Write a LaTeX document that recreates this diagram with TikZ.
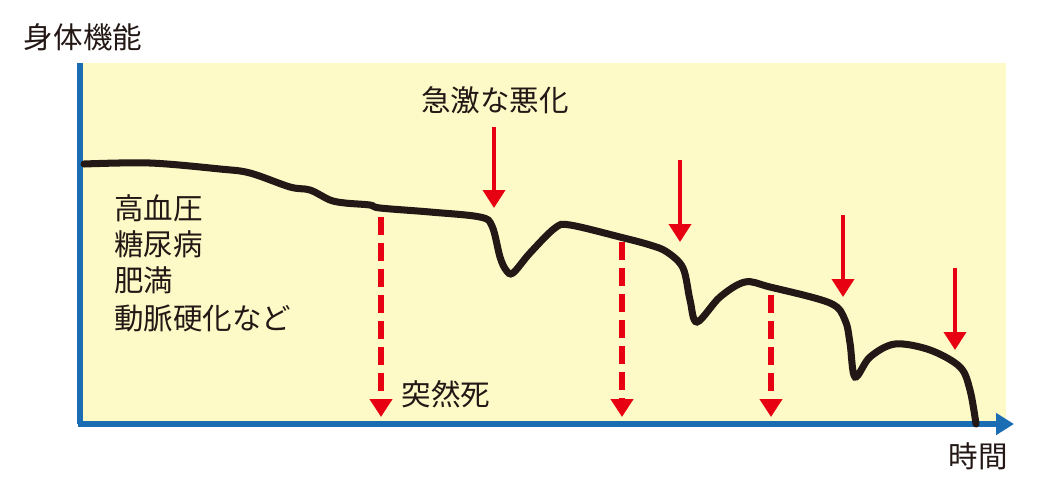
\documentclass[tikz,border=0pt]{standalone}
\usepackage{fontspec}
\setmainfont{Noto Sans CJK JP}
\usepackage{tikz}
\usetikzlibrary{arrows.meta}
\definecolor{chartbg}{HTML}{FEFAC8}
\definecolor{axisblue}{HTML}{1A6DB3}
\definecolor{alertred}{HTML}{E60012}
\definecolor{inkgray}{HTML}{231815}

\begin{document}
\begin{tikzpicture}[x=0.025cm,y=-0.025cm,
  label/.style={inner sep=0pt,text=inkgray,font=\fontsize{21}{26}\selectfont},
  hit/.style={draw=alertred,line width=2.8pt,-{Triangle[length=12.8pt,width=15.6pt]}},
  risk/.style={draw=alertred,line width=3.6pt,dash pattern=on 12.8pt off 5.7pt,-{Triangle[length=12.8pt,width=15.6pt]}},
  axis/.style={draw=axisblue,line width=4pt}]
\useasboundingbox (0,0) rectangle (1039,495);

  \fill[chartbg] (80,63) rectangle (1006,424);

% axes
  \coordinate (origin) at (80,424);
  \coordinate (ytop) at (80,63);
  \coordinate (xend) at (1014,424);
  \draw[axis] (ytop) -- (origin);
  \draw[axis,-{Triangle[length=12.8pt,width=15pt]}] (78,424) -- (xend);

  \node[label]			(ylabel) at (83,37)	{身体機能};
  \node[label]			(xlabel) at (978,456)	{時間};
  \node[label]			(worse) at (495,100)	{急激な悪化};
  \node[label]			(death) at (446,394)	{突然死};
  \node[label,anchor=west]	(bp) at (114,208)	{高血圧};
  \node[label,anchor=west]	(dm) at (114,244)	{糖尿病};
  \node[label,anchor=west]	(obese) at (114,280)	{肥満};
  \node[label,anchor=west]	(athero) at (114,318)	{動脈硬化など};

% decline of function
  \draw[line width=5pt,inkgray,line cap=round] plot[smooth,tension=0.55] coordinates {
    (84,164) (150,163) (220,169) (250,173) (290,187) (310,190) (330,200) (345,203)
    (370,205) (380,208) (430,212) (480,217) (492,226) (500,257) (506,270) (513,273)
    (530,253) (555,228) (570,225) (620,237) (650,245) (667,252) (683,268) (690,300)
    (697,322) (720,297) (745,282) (770,287) (830,303) (845,320) (850,343) (855,377)
    (870,357) (895,344) (930,350) (960,367) (970,390) (976,424)};

% sudden worsening
  \coordinate (h1) at (494,127);	\coordinate (h1e) at (494,208);
  \coordinate (h2) at (680,160);	\coordinate (h2e) at (680,242);
  \coordinate (h3) at (843,215);	\coordinate (h3e) at (843,297);
  \coordinate (h4) at (955,268);	\coordinate (h4e) at (955,350);
  \draw[hit] (h1) -- (h1e);
  \draw[hit] (h2) -- (h2e);
  \draw[hit] (h3) -- (h3e);
  \draw[hit] (h4) -- (h4e);

% sudden death
  \coordinate (d1) at (381,217);	\coordinate (d1e) at (381,417);
  \coordinate (d2) at (622,242);	\coordinate (d2e) at (622,417);
  \coordinate (d3) at (771,295);	\coordinate (d3e) at (771,417);
  \draw[risk] (d1) -- (d1e);
  \draw[risk] (d2) -- (d2e);
  \draw[risk] (d3) -- (d3e);
\end{tikzpicture}
\end{document}
